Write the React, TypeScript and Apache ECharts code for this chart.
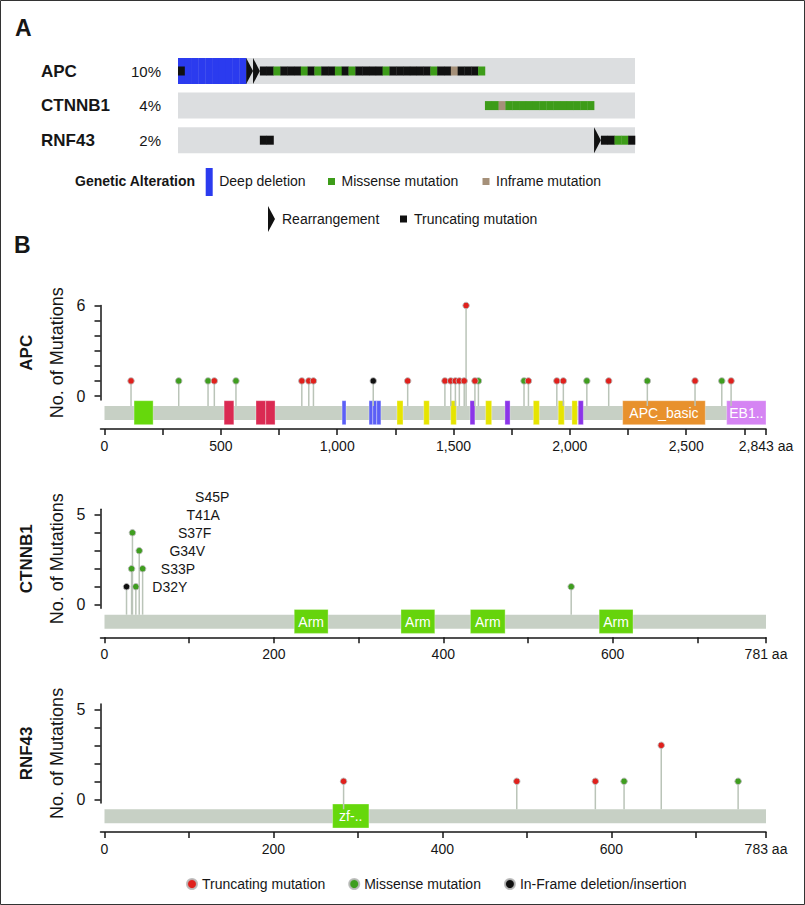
import React, { useEffect, useRef } from 'react';
import * as echarts from 'echarts';

const FONT = '"Liberation Sans", Arial, Helvetica, sans-serif';
const INK = '#161616';

// ---------------- Panel A : oncoprint ----------------
const oncoGenes = ['APC', 'CTNNB1', 'RNF43'];
const oncoPercents = ['10%', '4%', '2%'];
const oncoSampleCount = 67;
// d = deep deletion + truncating, D = deep deletion, R = rearrangement,
// T = truncating, M = missense, I = inframe, . = not altered
const oncoAPC = 'dDDDDDDDDD' + 'RR' + 'TTM' + 'TTTM' + 'TM' + 'TTM' + 'TM' + 'TTTTM' + 'TTTTTTM' + 'TTI' + 'TTTM';
const oncoCTNNB1 = '..........' + '..........' + '..........' + '..........' + '.....' + 'MMI' + 'MMMMM' + 'MMMMM' + 'MMM';
const oncoRNF43 = '......' + '......' + 'TT' + '..........' + '..........' + '..........' + '..........' + '.......' + 'RTTMMT';
const oncoRows = [oncoAPC, oncoCTNNB1, oncoRNF43];

const oncoLegendRow1 = [['Deep deletion', 'D'], ['Missense mutation', 'M'], ['Inframe mutation', 'I']];
const oncoLegendRow2 = [['Rearrangement', 'R'], ['Truncating mutation', 'T']];

// ---------------- Panel B : lollipops ----------------
const apcLength = 2843;
const apcPos = [114, 319, 445, 472, 565, 848, 878, 898, 1155, 1303, 1463, 1488, 1508, 1525, 1546, 1554, 1592, 1607, 1803, 1822, 1944, 1972, 2073, 2167, 2333, 2538, 2653, 2693];
const apcCount = [1, 1, 1, 1, 1, 1, 1, 1, 1, 1, 1, 1, 1, 1, 1, 6, 1, 1, 1, 1, 1, 1, 1, 1, 1, 1, 1, 1];
const apcType = ['T', 'M', 'M', 'T', 'M', 'T', 'T', 'T', 'I', 'T', 'T', 'T', 'T', 'T', 'T', 'T', 'T', 'M', 'M', 'T', 'T', 'T', 'M', 'T', 'M', 'T', 'M', 'T'];
const apcDomains: [number, number, string, string][] = [
  [127, 209, 'lime', ''],
  [514, 556, 'crimson', ''],
  [651, 693, 'crimson', ''],
  [693, 733, 'crimson', ''],
  [1021, 1038, 'blue', ''],
  [1137, 1153, 'blue', ''],
  [1153, 1170, 'blue', ''],
  [1170, 1188, 'blue', ''],
  [1257, 1283, 'yellow', ''],
  [1372, 1396, 'yellow', ''],
  [1488, 1512, 'yellow', ''],
  [1571, 1592, 'purple', ''],
  [1638, 1664, 'yellow', ''],
  [1721, 1743, 'purple', ''],
  [1843, 1869, 'yellow', ''],
  [1950, 1976, 'yellow', ''],
  [2009, 2032, 'yellow', ''],
  [2036, 2058, 'purple', ''],
  [2227, 2582, 'orange', 'APC_basic'],
  [2674, 2843, 'pink', 'EB1..'],
];
const apcXTicks = [0, 250, 500, 750, 1000, 1250, 1500, 1750, 2000, 2250, 2500, 2750, 2843];
const apcXLabels = [0, 500, 1000, 1500, 2000, 2500, 2843];
const apcYTicks = [0, 1, 2, 3, 4, 5, 6];
const apcYLabels = [0, 6];

const ctnnb1Length = 781;
const ctnnb1Pos = [26, 32, 33, 37, 41, 45, 551];
const ctnnb1Count = [1, 2, 4, 1, 3, 2, 1];
const ctnnb1Type = ['I', 'M', 'M', 'M', 'M', 'M', 'M'];
const ctnnb1Domains: [number, number, string, string][] = [
  [224, 264, 'arm', 'Arm'],
  [350, 390, 'arm', 'Arm'],
  [432, 473, 'arm', 'Arm'],
  [584, 624, 'arm', 'Arm'],
];
const ctnnb1HotspotLabels = ['D32Y', 'S33P', 'G34V', 'S37F', 'T41A', 'S45P'];
const shortXTicks781 = [0, 100, 200, 300, 400, 500, 600, 700, 781];
const shortXLabels781 = [0, 200, 400, 600, 781];

const rnf43Length = 783;
const rnf43Pos = [283, 488, 581, 615, 659, 750];
const rnf43Count = [1, 1, 1, 1, 3, 1];
const rnf43Type = ['T', 'T', 'T', 'M', 'T', 'M'];
const rnf43Domains: [number, number, string, string][] = [[270, 313, 'lime', 'zf-..']];
const shortXTicks783 = [0, 100, 200, 300, 400, 500, 600, 700, 783];
const shortXLabels783 = [0, 200, 400, 600, 783];
const fiveYTicks = [0, 1, 2, 3, 4, 5];
const fiveYLabels = [0, 5];

const legendNames = ['Truncating mutation', 'Missense mutation', 'In-Frame deletion/insertion'];

// ---------------- styling ----------------
const ONCO_COLOR: Record<string, string> = {
  D: '#2b3bef', M: '#3d9c19', I: '#a59079', T: '#111111', R: '#111111', gray: '#dcdee0',
};
const HEAD_COLOR: Record<string, string> = { T: '#e0201c', M: '#3f9e1f', I: '#111111' };
const TYPE_NAME: Record<string, string> = { T: legendNames[0], M: legendNames[1], I: legendNames[2] };
const DOMAIN_COLOR: Record<string, string> = {
  lime: '#66d80c', crimson: '#da2a52', blue: '#5b5ff6', yellow: '#e6e400', purple: '#8b35e8',
  orange: '#e8912d', pink: '#d584f3', arm: '#66d40c',
};
const BAND = '#c7d0c5';
const STEM = '#bac4b8';

const lolliGenes = [
  { name: 'APC', length: apcLength, pos: apcPos, cnt: apcCount, type: apcType, domains: apcDomains, xTicks: apcXTicks, xLabels: apcXLabels, yTicks: apcYTicks, yLabels: apcYLabels },
  { name: 'CTNNB1', length: ctnnb1Length, pos: ctnnb1Pos, cnt: ctnnb1Count, type: ctnnb1Type, domains: ctnnb1Domains, xTicks: shortXTicks781, xLabels: shortXLabels781, yTicks: fiveYTicks, yLabels: fiveYLabels },
  { name: 'RNF43', length: rnf43Length, pos: rnf43Pos, cnt: rnf43Count, type: rnf43Type, domains: rnf43Domains, xTicks: shortXTicks783, xLabels: shortXLabels783, yTicks: fiveYTicks, yLabels: fiveYLabels },
];
// plot area: protein position 0 sits at x=104.5 and the end at x=766; the y axis line is 4px left of 0
const PLOT_X0 = 104.5;
const PLOT_W = 661.5;
const Y_AXIS_GAP = 4;
const lolliLayout = [
  { top: 305.5, height: 94.5, yMin: -0.265, yMax: 6 },
  { top: 509.3, height: 99, yMin: -0.2, yMax: 5.3 },
  { top: 703.9, height: 99, yMin: -0.2, yMax: 5.3 },
];

const fmt = (v: number) => v.toLocaleString('en-US');

function buildOption() {
  const grids: any[] = [];
  const xAxes: any[] = [];
  const yAxes: any[] = [];
  const series: any[] = [];
  const graphics: any[] = [];

  // ---------- Panel A ----------
  grids.push({ left: 178, top: 53.7, width: 457, height: 103.8 });
  xAxes.push({ gridIndex: 0, type: 'value', min: 0, max: oncoSampleCount, show: false });
  yAxes.push({
    gridIndex: 0, type: 'category', data: oncoGenes, inverse: true,
    axisLine: { show: false }, axisTick: { show: false }, splitLine: { show: false },
    axisLabel: {
      margin: 17,
      formatter: (v: string, i: number) => `{g|${v}}{p|${oncoPercents[i]}}`,
      rich: {
        g: { fontSize: 17, fontWeight: 'bold', width: 90, align: 'left', fontFamily: FONT, color: INK },
        p: { fontSize: 15, width: 30, align: 'right', fontFamily: FONT, color: INK },
      },
    },
  });
  series.push({
    type: 'custom', xAxisIndex: 0, yAxisIndex: 0, silent: true, clip: false, z: 1,
    data: oncoGenes.map((_, g) => [0, g]),
    renderItem: (_p: any, api: any) => {
      const g = api.value(1);
      const a = api.coord([0, g]);
      const b = api.coord([oncoSampleCount, g]);
      return { type: 'rect', shape: { x: a[0], y: a[1] - 13, width: b[0] - a[0], height: 26 }, style: { fill: ONCO_COLOR.gray } };
    },
  });
  const cells: { i: number; g: number; code: string }[] = [];
  oncoRows.forEach((row, g) => {
    for (let i = 0; i < row.length; i++) if (row[i] !== '.') cells.push({ i, g, code: row[i] });
  });
  series.push({
    type: 'custom', xAxisIndex: 0, yAxisIndex: 0, silent: true, clip: false, z: 2,
    data: cells.map((c) => [c.i, c.g]),
    renderItem: (params: any, api: any) => {
      const c = cells[params.dataIndex];
      const p = api.coord([c.i, c.g]);
      const w = api.coord([c.i + 1, c.g])[0] - p[0];
      const x = p[0];
      const cy = p[1];
      const kids: any[] = [];
      if (c.code === 'D' || c.code === 'd') {
        kids.push({ type: 'rect', shape: { x, y: cy - 13, width: w + 0.3, height: 26 }, style: { fill: ONCO_COLOR.D } });
      }
      if (c.code === 'R') {
        kids.push({ type: 'polygon', shape: { points: [[x, cy - 13], [x + w, cy], [x, cy + 13]] }, style: { fill: ONCO_COLOR.R } });
      }
      const small = c.code === 'd' ? 'T' : c.code;
      if (small === 'T' || small === 'M' || small === 'I') {
        kids.push({ type: 'rect', shape: { x, y: cy - 4.5, width: w + 0.3, height: 9 }, style: { fill: ONCO_COLOR[small] } });
      }
      return { type: 'group', children: kids };
    },
  });

  // Panel A legend
  const txt = (x: number, y: number, text: string, extra: any = {}) => ({
    type: 'text', x, y, silent: true,
    style: { text, fontSize: 14, fontFamily: FONT, fill: INK, align: 'left', verticalAlign: 'middle', ...extra },
  });
  graphics.push(txt(75, 181, 'Genetic Alteration', { fontWeight: 'bold' }));
  const row1X = [205.7, 328, 482.5];
  oncoLegendRow1.forEach(([label, code], i) => {
    const x = row1X[i];
    if (code === 'D') {
      graphics.push({ type: 'rect', silent: true, shape: { x, y: 168, width: 7, height: 28 }, style: { fill: ONCO_COLOR.D } });
    } else {
      graphics.push({ type: 'rect', silent: true, shape: { x, y: 178, width: 7, height: 7 }, style: { fill: ONCO_COLOR[code] } });
    }
    graphics.push(txt(x + 13.5, 181, label));
  });
  const row2X = [268, 400];
  oncoLegendRow2.forEach(([label, code], i) => {
    const x = row2X[i];
    if (code === 'R') {
      graphics.push({ type: 'polygon', silent: true, shape: { points: [[x, 206], [x + 7, 219], [x, 232]] }, style: { fill: ONCO_COLOR.R } });
    } else {
      graphics.push({ type: 'rect', silent: true, shape: { x, y: 215.5, width: 7, height: 7 }, style: { fill: ONCO_COLOR[code] } });
    }
    graphics.push(txt(x + 14, 219, label));
  });

  // Panel letters
  graphics.push(txt(15, 28, 'A', { fontSize: 23, fontWeight: 'bold' }));
  graphics.push(txt(14, 245, 'B', { fontSize: 23, fontWeight: 'bold' }));

  // ---------- Panel B ----------
  lolliGenes.forEach((gene, k) => {
    const L = lolliLayout[k];
    const gi = k + 1;
    const xPad = (Y_AXIS_GAP * gene.length) / PLOT_W;
    grids.push({ left: PLOT_X0 - Y_AXIS_GAP, width: PLOT_W + Y_AXIS_GAP, top: L.top, height: L.height });
    const lineStyle = { color: INK, width: 1.5 };
    xAxes.push({
      gridIndex: gi, type: 'value', min: -xPad, max: gene.length, offset: 29,
      axisLine: { show: true, onZero: false, lineStyle },
      axisTick: { show: true, length: 6, lineStyle, customValues: gene.xTicks },
      axisLabel: {
        customValues: gene.xLabels, fontSize: 14, margin: 10, color: INK, fontFamily: FONT,
        formatter: (v: number) => (v === gene.length ? `${fmt(v)} aa` : fmt(v)),
      },
      splitLine: { show: false },
    });
    yAxes.push({
      gridIndex: gi, type: 'value', min: L.yMin, max: L.yMax,
      name: 'No. of Mutations', nameLocation: 'middle', nameGap: 31,
      nameTextStyle: { fontSize: 18, color: INK, fontFamily: FONT },
      axisLine: { show: true, onZero: false, lineStyle },
      axisTick: { show: true, length: 6, lineStyle, customValues: gene.yTicks },
      axisLabel: { customValues: gene.yLabels, fontSize: 16, margin: 15, color: INK, fontFamily: FONT },
      splitLine: { show: false },
    });
    const mid = L.top + L.height / 2;
    graphics.push({
      type: 'text', x: 26, y: mid, rotation: Math.PI / 2, silent: true,
      style: { text: gene.name, fontSize: 17, fontWeight: 'bold', fontFamily: FONT, fill: INK, align: 'center', verticalAlign: 'middle' },
    });

    // protein band
    series.push({
      type: 'custom', xAxisIndex: gi, yAxisIndex: gi, silent: true, clip: false, z: 2,
      data: [[0, gene.length]],
      renderItem: (_p: any, api: any) => {
        const s = api.coord([api.value(0), 0]);
        const e = api.coord([api.value(1), 0]);
        return { type: 'rect', shape: { x: s[0], y: s[1] + 10, width: e[0] - s[0], height: 14 }, style: { fill: BAND } };
      },
    });
    // domains
    series.push({
      type: 'custom', xAxisIndex: gi, yAxisIndex: gi, silent: true, clip: false, z: 3,
      data: gene.domains.map((d) => [d[0], d[1]]),
      renderItem: (params: any, api: any) => {
        const d = gene.domains[params.dataIndex];
        const s = api.coord([d[0], 0]);
        const e = api.coord([d[1], 0]);
        const kids: any[] = [
          { type: 'rect', shape: { x: s[0], y: s[1] + 4.7, width: e[0] - s[0], height: 24 }, style: { fill: DOMAIN_COLOR[d[2]], stroke: 'rgba(255,255,255,0.55)', lineWidth: 0.6 } },
        ];
        if (d[3]) {
          kids.push({
            type: 'text', x: (s[0] + e[0]) / 2, y: s[1] + 16.9,
            style: { text: d[3], fill: '#ffffff', fontSize: 14, fontFamily: FONT, align: 'center', verticalAlign: 'middle' },
          });
        }
        return { type: 'group', children: kids };
      },
    });
    // stems
    series.push({
      type: 'custom', xAxisIndex: gi, yAxisIndex: gi, silent: true, clip: false, z: 4,
      data: gene.pos.map((p, i) => [p, gene.cnt[i]]),
      renderItem: (_p: any, api: any) => {
        const top = api.coord([api.value(0), api.value(1)]);
        const base = api.coord([api.value(0), 0]);
        return { type: 'line', shape: { x1: top[0], y1: top[1], x2: top[0], y2: base[1] + 10 }, style: { stroke: STEM, lineWidth: 1.5 } };
      },
    });
    // heads
    ['M', 'T', 'I'].forEach((t) => {
      series.push({
        type: 'scatter', name: TYPE_NAME[t], xAxisIndex: gi, yAxisIndex: gi, clip: false, silent: true, z: 5,
        symbol: 'circle', symbolSize: 6.5,
        itemStyle: { color: HEAD_COLOR[t], borderColor: 'rgba(185,185,185,0.9)', borderWidth: 1, opacity: 1 },
        data: gene.pos.map((p, i) => (gene.type[i] === t ? [p, gene.cnt[i]] : null)).filter((v) => v !== null),
      });
    });
    // hotspot labels for CTNNB1 (staggered one level apart)
    if (gene.name === 'CTNNB1') {
      series.push({
        type: 'custom', xAxisIndex: gi, yAxisIndex: gi, silent: true, clip: false, z: 6,
        data: ctnnb1HotspotLabels.map((_, i) => [56.4 + i * 10.1, i + 1]),
        renderItem: (params: any, api: any) => {
          const p = api.coord([api.value(0), api.value(1)]);
          return {
            type: 'text', x: p[0], y: p[1],
            style: { text: ctnnb1HotspotLabels[params.dataIndex], fill: INK, fontSize: 14, fontFamily: FONT, align: 'left', verticalAlign: 'middle' },
          };
        },
      });
    }
  });

  // frame
  graphics.push({ type: 'rect', silent: true, shape: { x: 0.5, y: 0.5, width: 804, height: 904 }, style: { fill: 'none', stroke: '#333', lineWidth: 1 } });

  return {
    animation: false,
    backgroundColor: '#ffffff',
    textStyle: { fontFamily: FONT },
    grid: grids,
    xAxis: xAxes,
    yAxis: yAxes,
    legend: {
      data: legendNames, left: 181, top: 872, icon: 'circle', itemWidth: 10, itemHeight: 10, itemGap: 23,
      selectedMode: false,
      textStyle: { fontSize: 14, color: INK, fontFamily: FONT },
    },
    graphic: graphics,
    series,
  };
}

export default function App() {
  const ref = useRef<HTMLDivElement>(null);
  useEffect(() => {
    const chart = echarts.init(ref.current!, null, { renderer: 'svg', width: 805, height: 905 });
    chart.setOption(buildOption() as any);
    return () => chart.dispose();
  }, []);
  return (
    <div
      ref={ref}
      style={{ position: 'absolute', left: 0, top: 0, width: 805, height: 905, background: '#ffffff' }}
    />
  );
}
